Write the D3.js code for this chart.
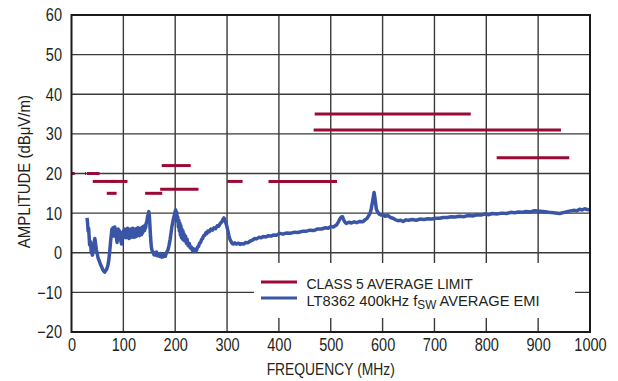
<!DOCTYPE html>
<html>
<head>
<meta charset="utf-8">
<script src="https://cdn.jsdelivr.net/npm/d3@7"></script>
<style>
  html, body { margin: 0; padding: 0; background: #fff; }
  svg text { font-family: 'Liberation Sans', Arial, Helvetica, sans-serif; fill: #231f20; }
</style>
</head>
<body>
<svg id="chart" width="618" height="381"></svg>
<script>
// ---- data ----
const xTicks = [0, 100, 200, 300, 400, 500, 600, 700, 800, 900, 1000];
const yTicks = [-20, -10, 0, 10, 20, 30, 40, 50, 60];

// CLASS 5 average limit segments (MHz, dBµV/m)
const limitStart = [0.5, 26, 30, 41, 76, 68, 142, 171, 174, 300, 380, 469, 467, 820];
const limitEnd   = [6.2, 28, 54, 88, 108, 87, 175, 245, 230, 330, 512, 770, 944, 960];
const limitLevel = [20, 20, 20, 18, 18, 15, 15, 16, 22, 18, 18, 35, 31, 24];

// LT8362 400kHz average EMI trace (MHz, dBµV/m)
const emiFreq = [30, 31, 32, 33, 35, 36.5, 38, 40.5, 42, 43.5, 45, 46.5, 48, 50, 51.5, 54, 56, 58, 60, 62, 64, 66, 68, 70, 72, 74, 75.5, 77, 78, 79, 80, 81, 82, 83.5, 85, 86, 87, 88, 89, 90, 91, 92, 93, 94, 95, 96.4, 97.5, 99, 100, 101, 102, 103, 104, 105, 106, 107, 108, 109, 110, 111, 112, 113, 114, 115, 116, 117, 118, 119, 120, 121, 122, 123, 124, 125, 126, 127, 128, 129, 130, 131, 132, 133, 134, 135, 136, 137, 138, 139, 140, 141, 142, 143, 144, 145.5, 147, 148, 149, 150, 151, 152, 153, 154, 155.5, 157, 159, 160.6, 162, 164, 166, 168, 170, 172, 174, 176.7, 179, 181, 183, 186, 188, 190, 192, 193.5, 195, 197, 199, 200, 201, 202, 203, 204, 205, 206, 207, 208, 209, 210, 211, 212, 213, 214, 215, 216, 217, 218.5, 220, 221.5, 223, 225, 227, 229, 231, 233, 235, 237, 239, 241, 243, 245, 247, 249, 251, 253, 255, 257, 259, 261, 263, 266, 269, 272, 275, 278, 281, 284, 287, 290, 292, 294, 295.5, 297, 299, 300.5, 302, 303.5, 305, 307, 309.7, 312, 315, 318, 322, 325, 328, 332, 336, 340, 344, 348, 353.5, 357, 362, 366, 370, 375, 380, 385, 390, 395, 402, 408, 415, 422, 430, 437, 445, 452, 460, 467, 475, 482, 490, 495, 500, 505, 511, 514, 517, 520, 522.6, 524, 526, 528, 530, 535, 540, 545, 550, 556, 562, 566, 570, 573, 576, 578, 580, 582, 583.6, 585, 586.5, 588, 590, 593, 597, 601, 605, 610, 615, 620, 625, 630, 635, 639.5, 645, 650, 657, 665, 672, 680, 687, 695, 702, 710, 717, 725, 732, 740, 748, 757, 765, 774.5, 782, 790, 797, 805, 812, 820, 830, 839, 847, 855, 862, 870, 877, 885, 893, 903, 910, 920, 930, 941.7, 950, 960, 968, 975, 980, 985, 990, 995, 1000];
const emiAmp = [8.8, 7.5, 5.5, 6.2, 2, 2.8, 0.3, -0.6, 0.8, 2.5, 3.6, 2.2, 0.8, -0.5, -1.4, -2.2, -3, -3.5, -4.2, -4.6, -4.9, -4.5, -4.1, -3.3, -1.8, 0.8, 3, 4.8, 6, 5, 6.3, 4.2, 5.5, 6.5, 4.6, 5.2, 3.4, 2.6, 4.4, 6, 4.8, 5.6, 3.8, 5.2, 3.2, 2.2, 4.6, 3.6, 5.5, 4.2, 6, 4.3, 5.8, 3.8, 5.4, 4.6, 6.2, 4, 5, 3.6, 5.5, 3.8, 6, 4.2, 5.8, 4, 6.2, 4.4, 5.6, 3.9, 6, 4.2, 5.5, 4.1, 6.1, 4.4, 6.3, 4.5, 5.9, 4.3, 6.2, 4.8, 6, 4.6, 6.4, 5, 6.6, 5.4, 6.5, 5.6, 7, 6.3, 7.4, 8, 9.4, 8.8, 10.4, 9.6, 7.5, 5, 3, 1.4, 0.5, 0.2, -0.5, 0, -0.6, 0.2, -0.8, -0.3, -0.9, -0.2, -1.1, -1, -0.4, -0.9, 0, 0.7, 1.8, 3.2, 5, 6.5, 7.5, 8.8, 9.8, 10.5, 10.8, 9.8, 10.2, 8, 9, 6.5, 8.2, 5.5, 7.5, 4.5, 6.8, 3.8, 6, 3.5, 5.5, 3.2, 4.8, 3, 4.2, 2.4, 3.4, 1.8, 2.4, 1.2, 1.5, 0.6, 1, 0.3, 0.8, 0.6, 1.4, 1.6, 2.4, 2.6, 3.4, 3.6, 4.3, 4.4, 5, 4.8, 5.5, 5.3, 6, 5.7, 6.3, 6.1, 6.8, 6.7, 7.4, 7.8, 8.4, 8.8, 8.3, 7.8, 7, 6.2, 5.3, 4.4, 3.6, 3, 2.4, 2.2, 2.5, 2.2, 2.4, 2.1, 2.3, 2.2, 2.6, 2.5, 2.9, 3.1, 3.6, 3.5, 3.9, 3.8, 4.1, 4, 4.3, 4.2, 4.5, 4.4, 4.9, 4.7, 5, 4.9, 5.2, 5.1, 5.4, 5.4, 5.7, 5.6, 6, 6, 6.3, 6.2, 6.6, 6.5, 7, 7.6, 8.4, 9, 9.1, 8.6, 8, 7.6, 7.4, 7.7, 7.5, 7.8, 7.6, 7.9, 7.8, 8.3, 8.7, 9.3, 10, 11, 12.5, 14, 15.2, 14, 12.5, 11, 10.4, 9.8, 9.5, 9.6, 9.2, 9.4, 8.9, 8.7, 8.3, 8.1, 8.2, 7.9, 8.3, 8.2, 8.4, 8.2, 8.5, 8.4, 8.6, 8.5, 8.7, 8.7, 8.9, 8.9, 9.1, 9, 9.2, 9.1, 9.4, 9.3, 9.6, 9.5, 9.8, 9.6, 9.9, 9.8, 10, 9.9, 10.2, 10.1, 10.3, 10.2, 10.4, 10.3, 10.6, 10.5, 10.4, 10.2, 10.1, 9.9, 10.2, 10.5, 10.7, 10.6, 11, 10.8, 11.1, 10.9, 10.8];

const legendLabels = ["CLASS 5 AVERAGE LIMIT", "LT8362 400kHz f", "SW", " AVERAGE EMI"];
const xTitle = "FREQUENCY (MHz)";
const yTitle = "AMPLITUDE (dBμV/m)";

// ---- drawing ----
const RED = "#9a0a35", BLUE = "#3a55a6", GRID = "#3a3a3a";
const svg = d3.select("#chart");
const L = 71.5, R = 590, T = 15, B = 332;
const x = d3.scaleLinear().domain([0, 1000]).range([L, R]);
const y = d3.scaleLinear().domain([-20, 60]).range([B, T]);

// grid
const grid = svg.append("g");
grid.selectAll("line.v").data(xTicks.slice(1, -1)).join("line")
  .attr("x1", d => x(d)).attr("x2", d => x(d)).attr("y1", T).attr("y2", B)
  .attr("stroke", GRID).attr("stroke-width", 1.4);
grid.selectAll("line.h").data(yTicks.slice(1, -1)).join("line")
  .attr("x1", L).attr("x2", R).attr("y1", d => y(d)).attr("y2", d => y(d))
  .attr("stroke", GRID).attr("stroke-width", 1.4);

// legend background
svg.append("rect").attr("x", 254).attr("y", 263).attr("width", 321).attr("height", 55).attr("fill", "#fff");

// axes via d3
const xAxis = d3.axisBottom(x).tickValues(xTicks).tickSize(0).tickPadding(0).tickFormat(d3.format("d"));
const gx = svg.append("g").attr("transform", `translate(0,${B})`).call(xAxis);
gx.select(".domain").remove();
gx.selectAll("text").attr("font-size", 17.5).style("font-family", null)
  .attr("dy", null).attr("y", 19.5).attr("transform", "scale(0.83,1)");

const yAxis = d3.axisLeft(y).tickValues(yTicks).tickSize(0).tickPadding(0)
  .tickFormat(d => d < 0 ? "\u2212" + Math.abs(d) : d);
const gy = svg.append("g").attr("transform", `translate(${L},0)`).call(yAxis);
gy.select(".domain").remove();
gy.selectAll("text").attr("font-size", 17.5).style("font-family", null)
  .attr("x", -9.5 / 0.83).attr("dy", "0.34em").attr("transform", "scale(0.83,1)");

// limit lines
svg.append("g").selectAll("line").data(limitLevel).join("line")
  .attr("x1", (d, i) => x(limitStart[i])).attr("x2", (d, i) => x(limitEnd[i]))
  .attr("y1", d => y(d)).attr("y2", d => y(d))
  .attr("stroke", RED).attr("stroke-width", 3);

// EMI trace
const pts = emiFreq.map((f, i) => [f, emiAmp[i]]);
svg.append("path").datum(pts)
  .attr("d", d3.line().x(d => x(d[0])).y(d => y(d[1])))
  .attr("fill", "none").attr("stroke", BLUE).attr("stroke-width", 3.5).attr("stroke-linejoin", "round");

// frame
svg.append("rect").attr("x", L).attr("y", T).attr("width", R - L).attr("height", B - T)
  .attr("fill", "none").attr("stroke", "#1a1a1a").attr("stroke-width", 2);

// legend
const lg = svg.append("g");
lg.append("line").attr("x1", 261).attr("x2", 297).attr("y1", 282).attr("y2", 282).attr("stroke", RED).attr("stroke-width", 3);
lg.append("line").attr("x1", 261).attr("x2", 297).attr("y1", 298).attr("y2", 298).attr("stroke", BLUE).attr("stroke-width", 3);
lg.append("g").attr("transform", "translate(306.5,0) scale(0.93,1)")
  .append("text").attr("x", 0).attr("y", 289).attr("font-size", 15).text(legendLabels[0]);
const t2 = lg.append("g").attr("transform", "translate(306.5,0) scale(0.98,1)")
  .append("text").attr("x", 0).attr("y", 306).attr("font-size", 15);
t2.append("tspan").text(legendLabels[1]);
t2.append("tspan").attr("font-size", 12).attr("dy", 3).text(legendLabels[2]);
t2.append("tspan").attr("dy", -3).text(legendLabels[3]);

// titles
svg.append("text").attr("transform", `translate(${(L + R) / 2},375) scale(0.84,1)`)
  .attr("text-anchor", "middle").attr("font-size", 16.5).text(xTitle);
svg.append("text").attr("transform", `translate(30,171.7) rotate(-90) scale(0.88,1)`)
  .attr("text-anchor", "middle").attr("font-size", 17).text(yTitle);
</script>
</body>
</html>
